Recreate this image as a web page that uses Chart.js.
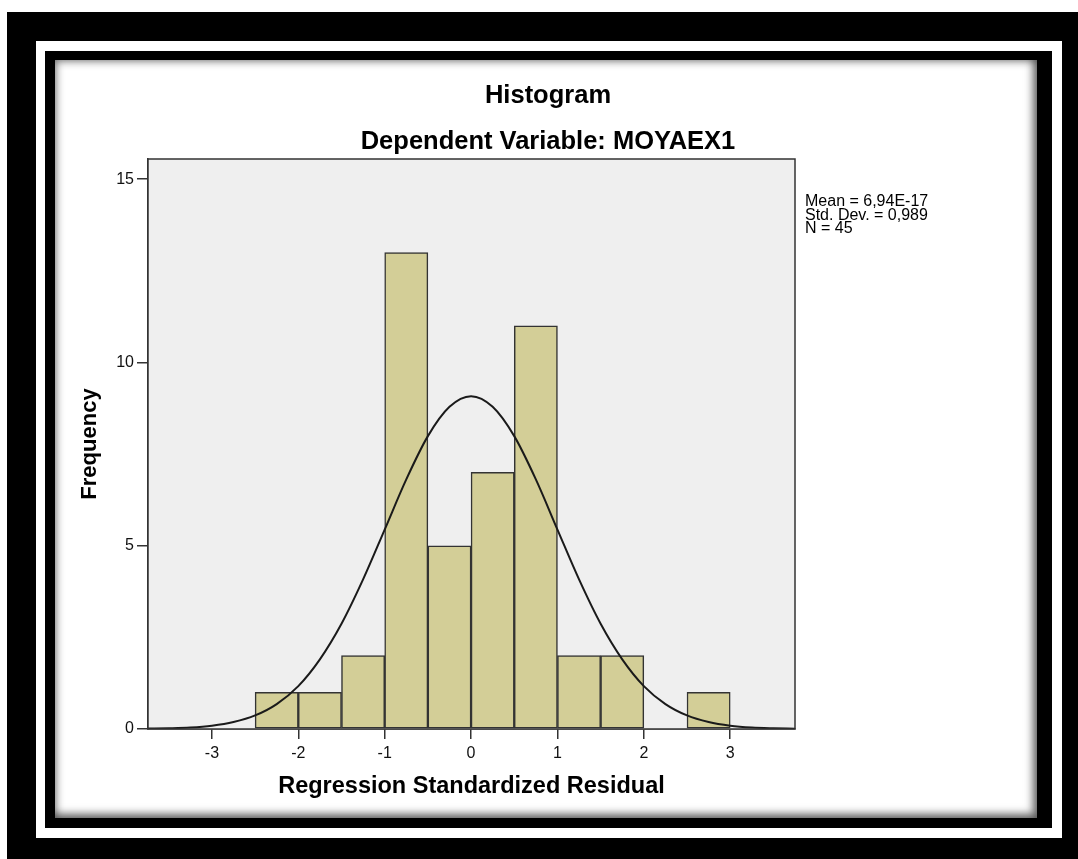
<!DOCTYPE html>
<html>
<head>
<meta charset="utf-8">
<script src="https://cdn.jsdelivr.net/npm/chart.js@4"></script>
<style>
  body { margin: 0; width: 1078px; height: 859px; background: #fff; position: relative; overflow: hidden; }
  .f { position: absolute; }
  #f1 { left: 7px; top: 12px; right: 0; bottom: 0; background: #000; }
  #f2 { left: 36px; top: 41px; width: 1026px; height: 797px; background: #fff; }
  #f3 { left: 45px; top: 51px; width: 1007px; height: 777px; background: #000; }
  #f4 { left: 55px; top: 60px; width: 982px; height: 758px; background: #fff;
        box-shadow: inset 0 0 9px 1px rgba(0,0,0,0.55), inset -5px -5px 8px rgba(0,0,0,0.35); }
  #myChart { position: absolute; left: 0; top: 0; }
</style>
</head>
<body>
<div class="f" id="f1"></div>
<div class="f" id="f2"></div>
<div class="f" id="f3"></div>
<div class="f" id="f4"></div>
<canvas id="myChart" width="1078" height="859"></canvas>
<script>
// histogram bins (left edge, width 0.5) and counts
const binStart = [-2.5, -2, -1.5, -1, -0.5, 0, 0.5, 1, 1.5, 2, 2.5]
const counts = [1, 1, 2, 13, 5, 7, 11, 2, 2, 0, 1]
const binWidth = 0.5

// normal curve
const curveX = [-3.75, -3.5, -3.25, -3, -2.75, -2.5, -2.25, -2, -1.75, -1.5, -1.25, -1, -0.75, -0.5, -0.25, 0,
  0.25, 0.5, 0.75, 1, 1.25, 1.5, 1.75, 2, 2.25, 2.5, 2.75, 3, 3.25, 3.5, 3.75]
const curveY = [0.01, 0.02, 0.04, 0.09, 0.19, 0.37, 0.68, 1.17, 1.9, 2.87, 4.08, 5.44, 6.81, 7.99, 8.79, 9.08,
  8.79, 7.99, 6.81, 5.44, 4.08, 2.87, 1.9, 1.17, 0.68, 0.37, 0.19, 0.09, 0.04, 0.02, 0.01]

const xTicks = [-3, -2, -1, 0, 1, 2, 3]
const yTicks = [0, 5, 10, 15]
const statsLines = ['Mean = 6,94E-17', 'Std. Dev. = 0,989', 'N = 45']
const titleText = 'Histogram'
const subtitleText = 'Dependent Variable: MOYAEX1'

const fontFam = '"Liberation Sans", Arial, sans-serif'

const bars = binStart.map((b, i) => ({ x: b + binWidth / 2, y: counts[i] }))
const curve = curveX.map((x, i) => ({ x: x, y: curveY[i] }))

const frame = {
  id: 'frame',
  beforeDatasetsDraw(chart) {
    const { ctx, chartArea: a } = chart
    ctx.save()
    ctx.fillStyle = '#efefef'
    ctx.fillRect(a.left, a.top, a.right - a.left, a.bottom - a.top)
    ctx.restore()
  },
  afterDraw(chart) {
    const { ctx, chartArea: a } = chart
    ctx.save()
    ctx.strokeStyle = '#333'
    ctx.lineWidth = 1.5
    ctx.strokeRect(a.left, a.top, a.right - a.left, a.bottom - a.top)
    ctx.fillStyle = '#000'
    ctx.textAlign = 'center'
    ctx.textBaseline = 'middle'
    ctx.font = 'bold 25.5px ' + fontFam
    ctx.fillText(titleText, 548, 96)
    ctx.fillText(subtitleText, 548, 142)
    ctx.textAlign = 'left'
    ctx.textBaseline = 'alphabetic'
    ctx.font = '16px ' + fontFam
    statsLines.forEach((t, i) => ctx.fillText(t, 805, 206 + i * 13.6))
    ctx.restore()
  }
}

const config = {
  data: {
    datasets: [
      {
        type: 'line',
        data: curve,
        borderColor: '#1a1a1a',
        borderWidth: 2,
        pointRadius: 0,
        cubicInterpolationMode: 'monotone',
        order: 0
      },
      {
        type: 'bar',
        data: bars,
        backgroundColor: '#d3ce97',
        borderColor: '#333',
        borderWidth: 1.5,
        borderSkipped: false,
        barPercentage: 1,
        categoryPercentage: 1,
        order: 1
      }
    ]
  },
  options: {
    responsive: false,
    animation: false,
    layout: { padding: { top: 159, left: 70, right: 283, bottom: 40 } },
    plugins: {
      legend: { display: false },
      tooltip: { enabled: false }
    },
    scales: {
      x: {
        type: 'linear',
        min: -3.74,
        max: 3.75,
        offset: false,
        afterBuildTicks(scale) { scale.ticks = xTicks.map(v => ({ value: v })) },
        afterFit(scale) { scale.height = 90 },
        grid: { offset: false, drawOnChartArea: false, tickLength: 10, color: '#333', lineWidth: 1.5 },
        border: { color: '#333', width: 1.5 },
        ticks: { font: { size: 16, family: fontFam }, color: '#111', padding: 5, maxRotation: 0 },
        title: { display: true, text: 'Regression Standardized Residual', color: '#000',
          font: { size: 23.5, weight: 'bold', family: fontFam }, padding: { top: 0, bottom: 18 } }
      },
      y: {
        min: 0,
        max: 15.55,
        afterBuildTicks(scale) { scale.ticks = yTicks.map(v => ({ value: v })) },
        afterFit(scale) { scale.width = 78 },
        grid: { drawOnChartArea: false, tickLength: 11, color: '#333', lineWidth: 1.5 },
        border: { color: '#333', width: 1.5 },
        ticks: { font: { size: 16, family: fontFam }, color: '#111', padding: 3 },
        title: { display: true, text: 'Frequency', color: '#000',
          font: { size: 22, weight: 'bold', family: fontFam }, padding: { top: 7, bottom: 0 } }
      }
    }
  },
  plugins: [frame]
}

new Chart(document.getElementById('myChart'), config)
</script>
</body>
</html>
